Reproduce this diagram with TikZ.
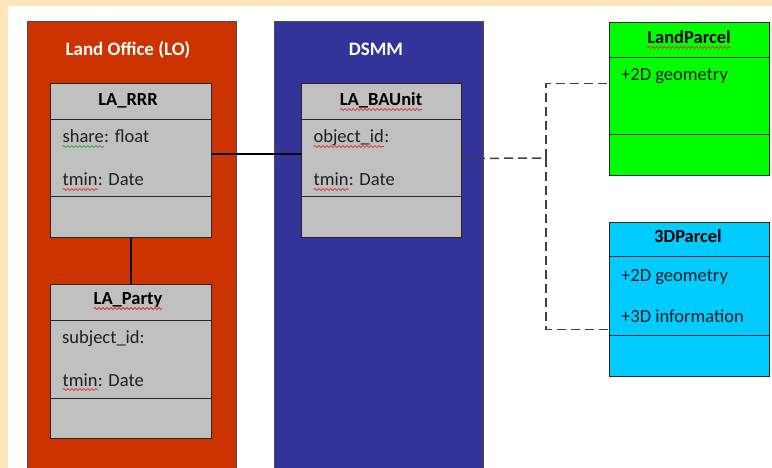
\documentclass[tikz,border=0pt]{standalone}
\usepackage{fontspec}
\setmainfont{Carlito}
\usetikzlibrary{decorations.pathmorphing,calc}
\definecolor{beige}{HTML}{FDE5BC}
\definecolor{lored}{HTML}{CC3300}
\definecolor{dsblue}{HTML}{333399}
\definecolor{boxgray}{HTML}{C0C0C0}
\definecolor{lpgreen}{HTML}{00FF00}
\definecolor{pcyan}{HTML}{00CCFF}
\definecolor{txt}{HTML}{1E1E1E}
\definecolor{squigred}{HTML}{E03030}
\definecolor{squiggreen}{HTML}{30A030}
\newcommand\wavy[2]{\tikz[baseline=(wvtmp.base)]{\node[draw=none,fill=none,inner sep=0pt,outer sep=0pt,minimum width=0pt,minimum height=0pt,anchor=base west] (wvtmp) at (0,0) {#2};\draw[#1,line width=0.8pt,decorate,decoration={snake,amplitude=1pt,segment length=4pt}] ([yshift=-3.5pt]wvtmp.base west) -- ([yshift=-3.5pt]wvtmp.base east);}}
\begin{document}
\begin{tikzpicture}[x=1pt,y=-1pt,
  container/.style={draw=black!70,line width=1pt,anchor=north west,inner sep=0pt},
  ctitle/.style={text=white,font=\fontsize{19}{22}\selectfont\bfseries,anchor=base,inner sep=0pt},
  cls/.style={draw=black!85,line width=1pt,anchor=north west,inner sep=0pt},
  sep/.style={draw=black!85,line width=1pt},
  chead/.style={text=black,font=\fontsize{18.5}{21}\selectfont\bfseries,anchor=base,inner sep=0pt},
  attr/.style={text=txt,font=\fontsize{18.5}{21}\selectfont,anchor=base west,inner sep=0pt},
  assoc/.style={draw=black,line width=2pt},
  dep/.style={draw=black!75,line width=1.5pt,dash pattern=on 9pt off 5pt}]
\fill[beige] (0,0) rectangle (772,468);
\fill[white] (8,6) rectangle (772,468);
\useasboundingbox (0,0) rectangle (772,468);
% containers
\node[container,fill=lored,minimum width=209pt,minimum height=448pt] (lo) at (27,21) {};
\node[ctitle] (lotitle) at (128,56) {Land Office (LO)};
\node[container,fill=dsblue,minimum width=209pt,minimum height=448pt] (ds) at (274,21) {};
\node[ctitle] (dstitle) at (376,56) {DSMM};
% LA_RRR
\node[cls,fill=boxgray,minimum width=161pt,minimum height=154pt] (rrr) at (50,83) {};
\draw[sep] ([yshift=-37pt]rrr.north west) -- ([yshift=-37pt]rrr.north east);
\draw[sep] ([yshift=-114pt]rrr.north west) -- ([yshift=-114pt]rrr.north east);
\node[chead] (rrrh) at (128,106) {LA\_RRR};
\node[attr] (rrra) at (62,143) {\wavy{squiggreen}{share}: float};
\node[attr] (rrrb) at (62,186) {\wavy{squigred}{tmin}: Date};
% LA_Party
\node[cls,fill=boxgray,minimum width=161pt,minimum height=154pt] (party) at (50,284) {};
\draw[sep] ([yshift=-36pt]party.north west) -- ([yshift=-36pt]party.north east);
\draw[sep] ([yshift=-114pt]party.north west) -- ([yshift=-114pt]party.north east);
\node[chead] (partyh) at (128,305) {\wavy{squigred}{LA\_Party}};
\node[attr] (partya) at (62,343) {subject\_id:};
\node[attr] (partyb) at (62,386) {\wavy{squigred}{tmin}: Date};
% LA_BAUnit
\node[cls,fill=boxgray,minimum width=160pt,minimum height=154pt] (bau) at (301,83) {};
\draw[sep] ([yshift=-37pt]bau.north west) -- ([yshift=-37pt]bau.north east);
\draw[sep] ([yshift=-114pt]bau.north west) -- ([yshift=-114pt]bau.north east);
\node[chead] (bauh) at (381,106) {\wavy{squigred}{LA\_BAUnit}};
\node[attr] (baua) at (313,143) {\wavy{squigred}{object\_id}:};
\node[attr] (baub) at (313,186) {\wavy{squigred}{tmin}: Date};
% LandParcel
\node[cls,fill=lpgreen,minimum width=160pt,minimum height=153pt] (lp) at (609,22) {};
\draw[sep] ([yshift=-36pt]lp.north west) -- ([yshift=-36pt]lp.north east);
\draw[sep] ([yshift=-113pt]lp.north west) -- ([yshift=-113pt]lp.north east);
\node[chead] (lph) at (689,44) {\wavy{squigred}{LandParcel}};
\node[attr] (lpa) at (621,81) {+2D geometry};
% 3DParcel
\node[cls,fill=pcyan,minimum width=160pt,minimum height=154pt] (tp) at (609,222) {};
\draw[sep] ([yshift=-35pt]tp.north west) -- ([yshift=-35pt]tp.north east);
\draw[sep] ([yshift=-113pt]tp.north west) -- ([yshift=-113pt]tp.north east);
\node[chead] (tph) at (688,243) {3DParcel};
\node[attr] (tpa) at (621,281) {+2D geometry};
\node[attr] (tpb) at (621,322) {+3D information};
% connectors
\draw[assoc] ([yshift=6pt]rrr.east) -- ([yshift=6pt]bau.west);
\draw[assoc] (rrr.south) -- (party.north);
\coordinate (junc) at (546,158);
\draw[dep] ([yshift=2pt]bau.east) -- (junc);
\draw[dep] (junc) |- ([yshift=15.5pt]lp.west);
\draw[dep] (junc) |- ([yshift=-30pt]tp.west);
\end{tikzpicture}
\end{document}
